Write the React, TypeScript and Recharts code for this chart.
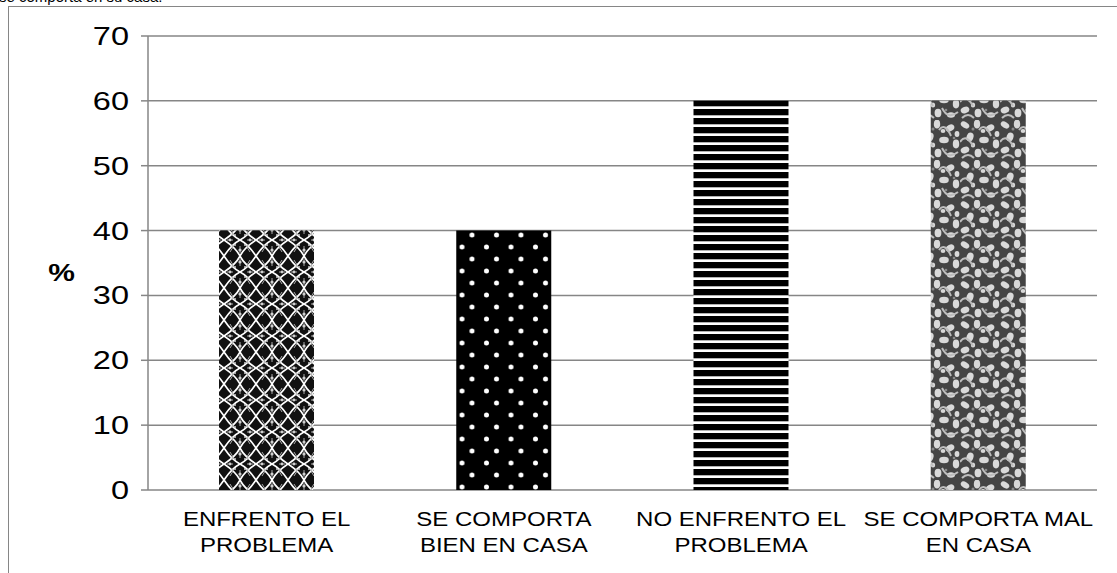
import { BarChart, Bar, XAxis, YAxis, CartesianGrid, Cell } from "recharts";

// ¿Cómo se comporta en su casa? (porcentajes)
const categoryLines = [
  ["ENFRENTO EL", "PROBLEMA"],
  ["SE COMPORTA", "BIEN EN CASA"],
  ["NO ENFRENTO EL", "PROBLEMA"],
  ["SE COMPORTA MAL", "EN CASA"],
];
const values = [40, 40, 60, 60];
const yTicks = [0, 10, 20, 30, 40, 50, 60, 70];
const boundaryTicks = [0, 1, 2, 3, 4];
const patternIds = ["pat-damask", "pat-dots", "pat-stripes", "pat-floral"];

const chartData = categoryLines.map((lines, i) => ({
  name: lines.join(" "),
  value: values[i],
}));

const GRID = "#868686";
const FONT = "'Liberation Sans', Arial, sans-serif";

// the source picture is stretched sideways, so text is widened a bit
function CategoryTick(props: any) {
  const { x, y, payload } = props;
  const lines = categoryLines[payload.index] ?? [payload.value];
  return (
    <g transform={`translate(${x},${y})`}>
      <text
        transform="scale(1.2,1)"
        textAnchor="middle"
        fontFamily={FONT}
        fontSize={20}
        fill="#000"
      >
        {lines.map((l: string, i: number) => (
          <tspan key={i} x={0} dy={i === 0 ? 28 : 26}>
            {l}
          </tspan>
        ))}
      </text>
    </g>
  );
}

function ValueTick(props: any) {
  const { x, y, payload } = props;
  return (
    <g transform={`translate(${x},${y})`}>
      <text
        transform="scale(1.3,1)"
        textAnchor="end"
        dy="0.36em"
        fontFamily={FONT}
        fontSize={25}
        fill="#000"
      >
        {payload.value}
      </text>
    </g>
  );
}

function PercentLabel(props: any) {
  const vb = props.viewBox ?? { x: 88, y: 36, width: 60, height: 454 };
  const x = vb.x - 13;
  const y = vb.y + vb.height / 2 + 9;
  return (
    <g transform={`translate(${x},${y})`}>
      <text
        transform="scale(1.25,1)"
        textAnchor="end"
        dy="0.36em"
        fontFamily={FONT}
        fontSize={24}
        fontWeight="bold"
        fill="#000"
      >
        %
      </text>
    </g>
  );
}

function Patterns() {
  return (
    <defs>
      <pattern id="pat-damask" patternUnits="userSpaceOnUse" width={32} height={32}>
        <rect width={32} height={32} fill="#111" />
        <g fill="none" stroke="#fff" strokeWidth={1.7}>
          <path d="M0 0 Q8 12 16 16 Q24 12 32 0" />
          <path d="M0 32 Q8 20 16 16 Q24 20 32 32" />
          <path d="M16 0 Q12 8 0 16" />
          <path d="M16 0 Q20 8 32 16" />
          <path d="M0 16 Q12 24 16 32" />
          <path d="M32 16 Q20 24 16 32" />
        </g>
        <g fill="none" stroke="#a8a8a8" strokeWidth={1}>
          <path d="M16 3 L16 10" />
          <path d="M16 22 L16 29" />
          <path d="M3 16 L9 16" />
          <path d="M23 16 L29 16" />
          <path d="M6 4 Q10 8 8 12" />
          <path d="M26 4 Q22 8 24 12" />
          <path d="M6 28 Q10 24 8 20" />
          <path d="M26 28 Q22 24 24 20" />
        </g>
        <g fill="#cfcfcf">
          <circle cx={16} cy={6} r={1.6} />
          <circle cx={16} cy={26} r={1.6} />
          <circle cx={6} cy={16} r={1.4} />
          <circle cx={26} cy={16} r={1.4} />
          <circle cx={11} cy={11} r={1} />
          <circle cx={21} cy={21} r={1} />
          <circle cx={21} cy={11} r={1} />
          <circle cx={11} cy={21} r={1} />
        </g>
      </pattern>
      <pattern id="pat-dots" patternUnits="userSpaceOnUse" width={24.5} height={24}>
        <rect width={24.5} height={24} fill="#000" />
        <circle cx={6.5} cy={19} r={2.5} fill="#fff" />
        <circle cx={21} cy={7} r={2.5} fill="#fff" />
      </pattern>
      <pattern id="pat-stripes" patternUnits="userSpaceOnUse" width={10} height={9}>
        <rect width={10} height={9} fill="#fff" />
        <rect y={1} width={10} height={6.3} fill="#000" />
      </pattern>
      <pattern id="pat-floral" patternUnits="userSpaceOnUse" width={40} height={40}>
        <rect width={40} height={40} fill="#444" />
        <g fill="#d9d9d9">
          <ellipse cx={5} cy={5} rx={4.6} ry={3} transform="rotate(30 5 5)" />
          <ellipse cx={17} cy={4} rx={3.2} ry={4.4} />
          <ellipse cx={30} cy={8} rx={4.6} ry={3.2} transform="rotate(-30 30 8)" />
          <ellipse cx={10} cy={17} rx={3.4} ry={4.6} transform="rotate(20 10 17)" />
          <ellipse cx={24} cy={20} rx={4.8} ry={3.2} />
          <ellipse cx={36} cy={24} rx={3.2} ry={4.4} />
          <ellipse cx={5} cy={30} rx={4.4} ry={3.2} transform="rotate(-20 5 30)" />
          <ellipse cx={18} cy={33} rx={3.4} ry={4.2} />
          <ellipse cx={31} cy={35} rx={4} ry={2.8} />
          <ellipse cx={37} cy={14} rx={2.4} ry={3} />
          <ellipse cx={23} cy={11} rx={2.4} ry={2} />
          <ellipse cx={13} cy={25} rx={2.2} ry={2.6} />
        </g>
        <g fill="none" stroke="#bdbdbd" strokeWidth={2}>
          <path d="M0 22 Q6 13 13 26" />
          <path d="M19 10 Q25 2 31 16" />
          <path d="M22 28 Q28 40 38 32" />
          <path d="M2 38 Q8 32 14 38" />
        </g>
        <g fill="#8a8a8a">
          <circle cx={13} cy={9} r={1.5} />
          <circle cx={34} cy={18} r={1.3} />
          <circle cx={26} cy={30} r={1.3} />
        </g>
      </pattern>
    </defs>
  );
}

export default function App() {
  return (
    <div
      style={{
        position: "absolute",
        left: 0,
        top: 0,
        width: 1117,
        height: 573,
        background: "#fff",
        overflow: "hidden",
      }}
    >
      <div
        style={{
          position: "absolute",
          left: -1,
          top: -11,
          fontFamily: FONT,
          fontSize: 15,
          lineHeight: "15px",
          color: "#000",
          whiteSpace: "nowrap",
        }}
      >
        se comporta en su casa.
      </div>
      <div
        style={{
          position: "absolute",
          left: 8,
          top: 6,
          width: 1109,
          height: 567,
          borderLeft: `1.5px solid ${GRID}`,
          borderTop: `1.5px solid ${GRID}`,
          background: "#fff",
        }}
      />
      <div style={{ position: "absolute", left: 0, top: 0 }}>
        <BarChart
          width={1117}
          height={573}
          data={chartData}
          margin={{ top: 36, right: 20, bottom: 0, left: 88 }}
          barSize={95}
        >
          <Patterns />
          <CartesianGrid vertical={false} stroke={GRID} strokeWidth={1.5} />
          <XAxis
            xAxisId="bounds"
            type="number"
            domain={[0, 4]}
            ticks={boundaryTicks}
            height={0}
            tick={false}
            tickSize={7}
            tickLine={{ stroke: GRID, strokeWidth: 1.5 }}
            axisLine={{ stroke: GRID, strokeWidth: 1.5 }}
          />
          <XAxis
            dataKey="name"
            height={83}
            tickLine={false}
            axisLine={false}
            interval={0}
            tick={<CategoryTick />}
          />
          <YAxis
            width={60}
            domain={[0, 70]}
            ticks={yTicks}
            tickSize={7}
            tickMargin={12}
            tickLine={{ stroke: GRID, strokeWidth: 1.5 }}
            axisLine={{ stroke: GRID, strokeWidth: 1.5 }}
            tick={<ValueTick />}
            label={<PercentLabel />}
          />
          <Bar dataKey="value" isAnimationActive={false}>
            {chartData.map((_, i) => (
              <Cell key={i} fill={`url(#${patternIds[i]})`} />
            ))}
          </Bar>
        </BarChart>
      </div>
    </div>
  );
}
